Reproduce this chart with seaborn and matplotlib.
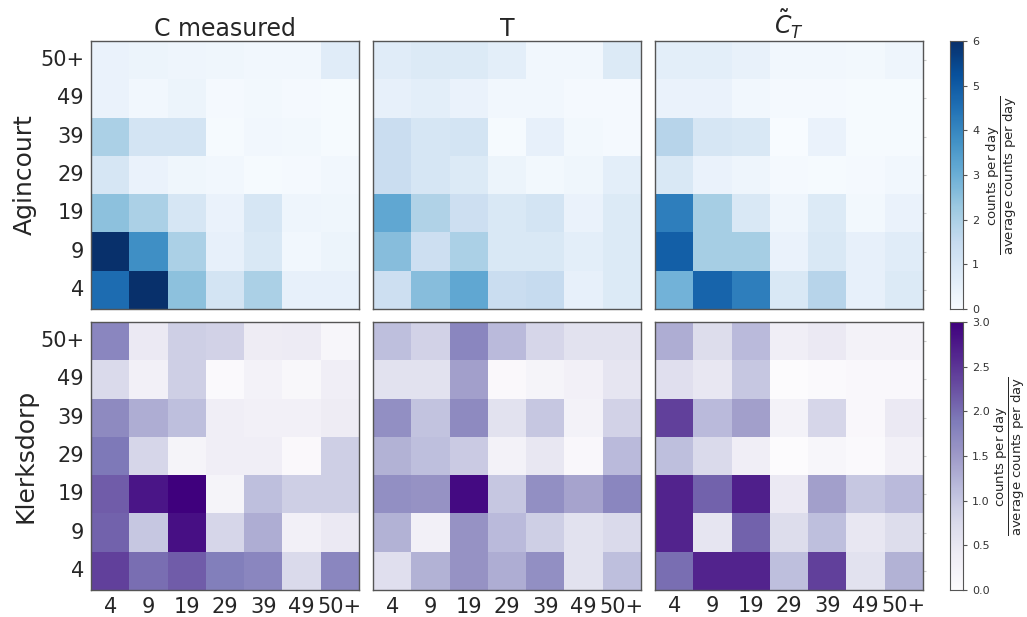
import numpy as np
import pandas as pd
import seaborn as sns
import matplotlib.pyplot as plt

sns.set_style("white")
plt.rcParams["font.family"] = ["DejaVu Sans"]
plt.rcParams["mathtext.fontset"] = "dejavusans"

# age groups, rows listed top to bottom, columns left to right
row_labels = ["50+", "49", "39", "29", "19", "9", "4"]
col_labels = ["4", "9", "19", "29", "39", "49", "50+"]

# Agincourt (normalised contact counts)
agin_measured = [
    [0.40, 0.35, 0.30, 0.25, 0.20, 0.20, 0.70],
    [0.40, 0.20, 0.35, 0.10, 0.15, 0.10, 0.05],
    [2.00, 1.10, 1.10, 0.05, 0.20, 0.15, 0.05],
    [1.00, 0.40, 0.25, 0.20, 0.05, 0.10, 0.20],
    [2.50, 2.00, 1.00, 0.40, 1.00, 0.30, 0.25],
    [6.00, 3.80, 2.00, 0.50, 0.90, 0.20, 0.35],
    [4.60, 6.00, 2.50, 1.10, 2.00, 0.50, 0.50],
]
agin_T = [
    [0.70, 0.80, 0.80, 0.60, 0.20, 0.20, 0.80],
    [0.50, 0.60, 0.40, 0.20, 0.20, 0.10, 0.10],
    [1.40, 1.00, 1.10, 0.05, 0.50, 0.15, 0.10],
    [1.40, 1.00, 0.80, 0.35, 0.15, 0.25, 0.60],
    [3.20, 1.90, 1.30, 0.90, 1.10, 0.40, 0.80],
    [2.60, 1.30, 2.00, 0.90, 0.90, 0.60, 0.80],
    [1.30, 2.60, 3.20, 1.40, 1.50, 0.50, 0.80],
]
agin_CT = [
    [0.60, 0.60, 0.45, 0.20, 0.20, 0.15, 0.30],
    [0.40, 0.40, 0.20, 0.10, 0.10, 0.05, 0.05],
    [1.80, 1.00, 0.90, 0.02, 0.40, 0.05, 0.05],
    [0.90, 0.40, 0.30, 0.10, 0.05, 0.10, 0.20],
    [4.20, 2.10, 0.90, 0.30, 0.80, 0.15, 0.40],
    [4.90, 2.10, 2.10, 0.40, 0.90, 0.50, 0.70],
    [2.90, 4.80, 4.20, 0.90, 1.80, 0.50, 0.80],
]

# Klerksdorp
klerk_measured = [
    [1.75, 0.45, 0.90, 0.85, 0.40, 0.42, 0.15],
    [0.75, 0.30, 0.90, 0.05, 0.25, 0.12, 0.35],
    [1.70, 1.30, 1.10, 0.35, 0.30, 0.30, 0.40],
    [1.90, 0.80, 0.20, 0.35, 0.35, 0.08, 0.90],
    [2.15, 2.80, 3.00, 0.20, 1.10, 0.90, 0.90],
    [2.10, 1.00, 2.85, 0.80, 1.30, 0.30, 0.45],
    [2.40, 2.00, 2.15, 1.85, 1.75, 0.75, 1.75],
]
klerk_T = [
    [1.10, 0.85, 1.75, 1.15, 0.80, 0.60, 0.60],
    [0.60, 0.60, 1.45, 0.08, 0.20, 0.30, 0.55],
    [1.65, 1.05, 1.70, 0.60, 1.00, 0.25, 0.85],
    [1.25, 1.10, 0.95, 0.25, 0.50, 0.10, 1.15],
    [1.65, 1.60, 2.90, 1.00, 1.65, 1.40, 1.75],
    [1.25, 0.30, 1.60, 1.15, 0.90, 0.60, 0.75],
    [0.65, 1.25, 1.60, 1.30, 1.65, 0.60, 1.10],
]
klerk_CT = [
    [1.30, 0.70, 1.15, 0.35, 0.45, 0.25, 0.25],
    [0.65, 0.50, 1.00, 0.02, 0.05, 0.10, 0.10],
    [2.40, 1.15, 1.45, 0.25, 0.80, 0.10, 0.45],
    [1.10, 0.75, 0.35, 0.02, 0.15, 0.05, 0.30],
    [2.65, 2.10, 2.70, 0.45, 1.45, 1.00, 1.15],
    [2.65, 0.55, 2.10, 0.70, 1.10, 0.50, 0.70],
    [2.00, 2.65, 2.65, 1.10, 2.40, 0.60, 1.25],
]

titles = ["C measured", "T", r"$\tilde{C}_T$"]
sites = ["Agincourt", "Klerksdorp"]
grids = [[agin_measured, agin_T, agin_CT], [klerk_measured, klerk_T, klerk_CT]]
cmaps = ["Blues", "Purples"]
vmaxs = [6, 3]

fig = plt.figure(figsize=(10.27, 6.17), dpi=100)
W, H = 1027, 617
lefts = [91, 373, 655]
tops = [41, 322]
size = 268
cbar_label = r"$\dfrac{\mathrm{counts\ per\ day}}{\mathrm{average\ counts\ per\ day}}$"

for r in range(2):
    cax = fig.add_axes([950 / W, 1 - (tops[r] + size) / H, 13 / W, size / H])
    for c in range(3):
        ax = fig.add_axes([lefts[c] / W, 1 - (tops[r] + size) / H, size / W, size / H])
        df = pd.DataFrame(grids[r][c], index=row_labels, columns=col_labels)
        sns.heatmap(df, ax=ax, cmap=cmaps[r], vmin=0, vmax=vmaxs[r],
                    cbar=(c == 2), cbar_ax=cax if c == 2 else None)
        for s in ax.spines.values():
            s.set_visible(True)
            s.set_color("#555555")
            s.set_linewidth(1)
        ax.tick_params(axis="both", length=3, color="#888888", labelsize=15, pad=2)
        ax.tick_params(axis="y", rotation=0)
        ax.tick_params(axis="x", rotation=0)
        if c == 2:
            ax.tick_params(right=True, color="#cccccc", length=2)
        if c > 0:
            ax.set_yticklabels([])
        if r == 0:
            ax.set_xticklabels([])
            ax.set_title(titles[c], fontsize=17, pad=3)
        if c == 0:
            ax.set_ylabel(sites[r], fontsize=18, labelpad=2)
    for s in cax.spines.values():
        s.set_visible(True)
        s.set_color("#555555")
    cax.tick_params(labelsize=8, length=3, color="#555555", labelcolor="#333333")
    cax.set_ylabel(cbar_label, fontsize=9.5, labelpad=4 if r == 0 else 2)

fig.savefig("out.png", dpi=100)
